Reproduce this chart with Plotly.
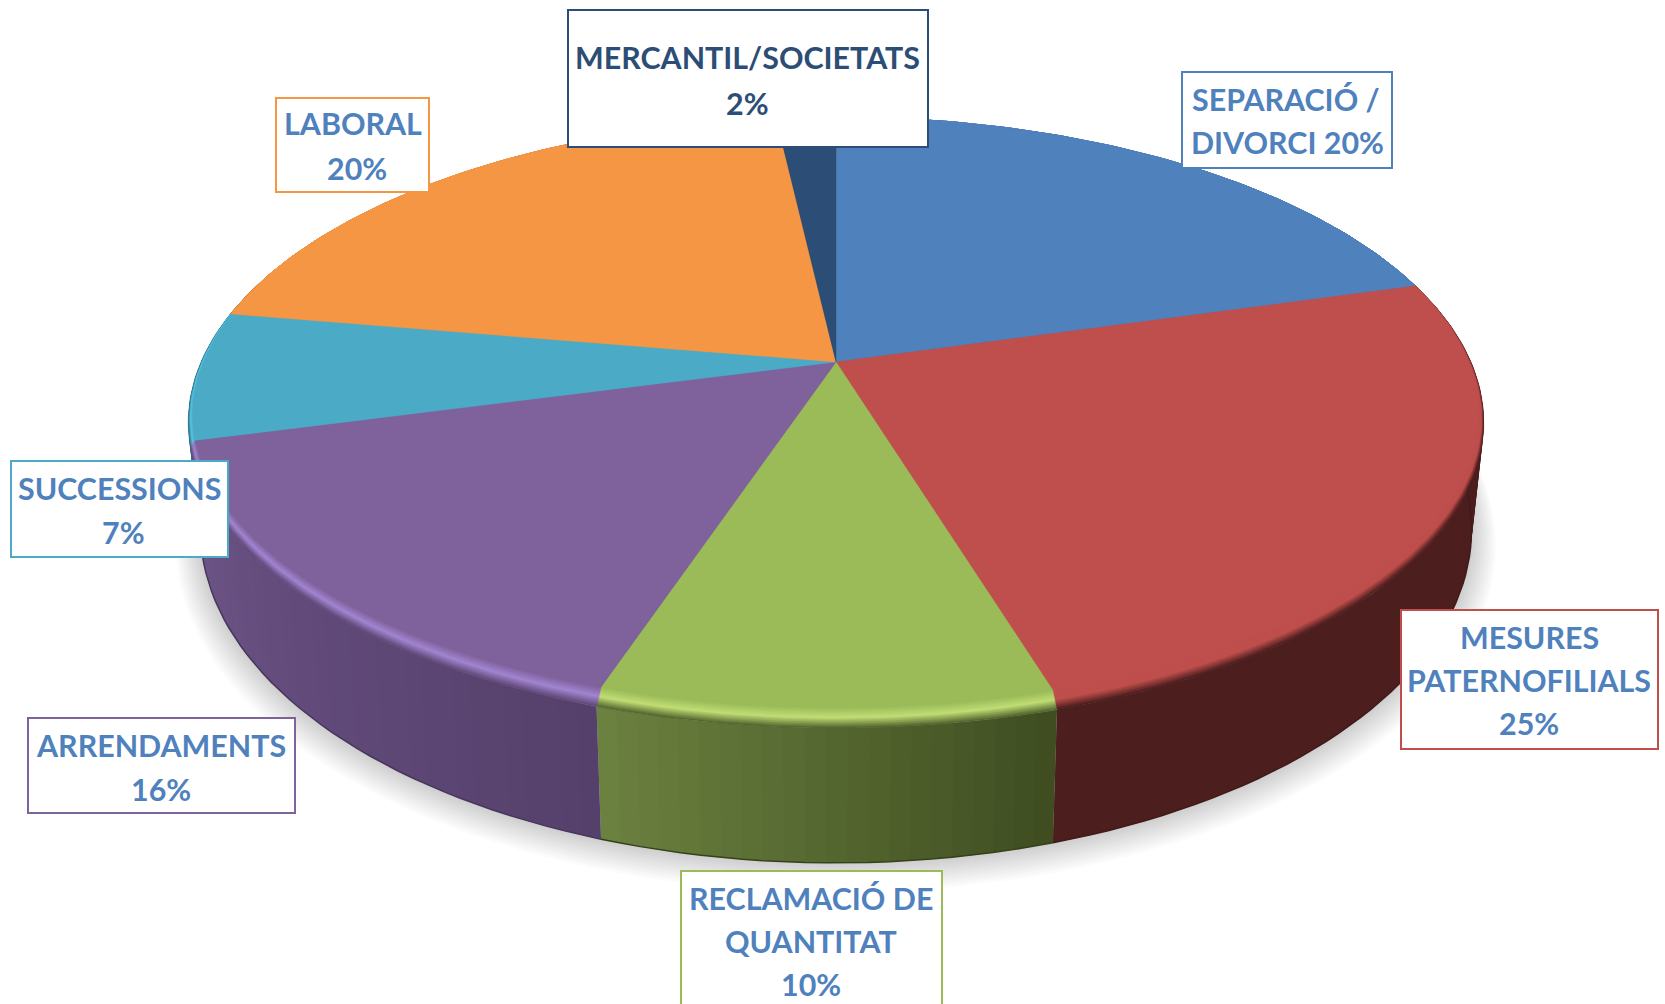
import math
import plotly.graph_objects as go

categories = ["SEPARACIÓ / DIVORCI", "MESURES PATERNOFILIALS", "RECLAMACIÓ DE QUANTITAT",
              "ARRENDAMENTS", "SUCCESSIONS", "LABORAL", "MERCANTIL/SOCIETATS"]
values = [20.6, 24.85, 9.5, 15.7, 7.05, 20.5, 1.8]
face_colors = ["#4F81BD", "#BE4F4C", "#9BBB59", "#7F619C", "#4BAAC6", "#F59644", "#2C4D75"]
high_colors = ["#4F81BD", "#BE4F4C", "#C0DD75", "#A285D0", "#55C5E5", "#F59644", "#2C4D75"]
wall_left = ["#2F4D71", "#4D1E1E", "#6C8240", "#6E5589", "#2D6A7A", "#94592A", "#1A2E46"]
wall_right = ["#2F4D71", "#4D1E1E", "#3E4C20", "#55406B", "#2D6A7A", "#94592A", "#1A2E46"]

label_lines = [["SEPARACIÓ /", "DIVORCI 20%"], ["MESURES", "PATERNOFILIALS", "25%"],
               ["RECLAMACIÓ DE", "QUANTITAT", "10%"], ["ARRENDAMENTS", "16%"],
               ["SUCCESSIONS", "7%"], ["LABORAL", "20%"], ["MERCANTIL/SOCIETATS", "2%"]]
label_centers = [[(1286, 99), (1287, 142)], [(1529, 637), (1529, 680), (1529, 723)],
                 [(811, 898), (811, 941), (811, 984)], [(161, 745), (161, 789)],
                 [(119, 488), (123, 532)], [(353, 123), (357, 168)], [(747, 57), (747, 103)]]
label_boxes = [(1182, 72, 1392, 168), (1401, 610, 1658, 749), (681, 871, 942, 1012),
               (28, 718, 295, 813), (11, 461, 228, 557), (276, 98, 429, 192), (568, 10, 928, 147)]
label_text_colors = ["#4F81BD"] * 6 + ["#2C4D75"]

# projection of the unit pie onto the page
CX, K = 836.0, -0.198
TOP = dict(a=635.0, y0=362.0, c=222.0)
BOT = dict(a=623.0, y0=463.0, c=229.0)


def project(theta, disc, t=0.0):
    u, v = math.sin(theta), -math.cos(theta)
    d = 1 + K * v
    shrink = 1 - 0.018 * t * max(0.0, v + 0.35) / 1.35
    x = CX + disc["a"] * u * shrink / d
    y = (disc["y0"] + disc["c"] * v) / d - 20 * t * max(0.0, v)
    return x, y


def mix(c1, c2, f):
    a = [int(c1[i:i + 2], 16) for i in (1, 3, 5)]
    b = [int(c2[i:i + 2], 16) for i in (1, 3, 5)]
    return "#%02x%02x%02x" % tuple(round(p + (q - p) * f) for p, q in zip(a, b))


edges = [0.0]
for val in values:
    edges.append(edges[-1] + val)
edges = [e / sum(values) * 2 * math.pi for e in edges]

fig = go.Figure()


def poly(xs, ys, color, lw=0.0):
    fig.add_trace(go.Scatter(x=xs, y=ys, mode="lines", fill="toself", fillcolor=color,
                             line=dict(color=color, width=lw), hoverinfo="skip", showlegend=False))


# soft shadow below the pie
N = 240
for i in range(12, 0, -1):
    s = 1 + 0.0032 * i
    pts = [project(2 * math.pi * j / N, BOT) for j in range(N + 1)]
    xs = [CX + (p[0] - CX) * s for p in pts]
    ys = [500 + (p[1] - 500) * s + 1.3 * i for p in pts]
    fig.add_trace(go.Scatter(x=xs, y=ys, mode="lines", fill="toself", fillcolor="rgba(0,0,0,0.016)",
                             line=dict(width=0), hoverinfo="skip", showlegend=False))

# side wall: later strips overlap the earlier ones, so no seams show
WALL_FROM, WALL_TO = math.radians(70), math.radians(290)
STEP = math.radians(1.5)
for i in range(len(values)):
    a0, a1 = max(edges[i], WALL_FROM), min(edges[i + 1], WALL_TO)
    if a1 <= a0:
        continue
    n = max(1, int((a1 - a0) / STEP))
    for j in range(n):
        t0 = a0 + (a1 - a0) * j / n
        t1 = a0 + (a1 - a0) * (j + 1) / n
        t1x = min(t1 + STEP, a1)
        col = mix(wall_left[i], wall_right[i], 1 - (j + 0.5) / n)
        p = [project(t0, TOP), project(t1, TOP), project(t1x, TOP), project(t1x, BOT),
             project(t1, BOT), project(t0, BOT)]
        poly([q[0] for q in p] + [p[0][0]], [q[1] for q in p] + [p[0][1]], col)
    bx, by = zip(*[project(a0 + (a1 - a0) * j / n, BOT) for j in range(n + 1)])
    fig.add_trace(go.Scatter(x=bx, y=by, mode="lines", hoverinfo="skip", showlegend=False,
                             line=dict(color=mix(wall_right[i], "#000000", 0.15), width=1.5)))

# top face with rounded bevel, outer layer first
LAYERS = 12
T_HIGH = 0.5
for layer in range(LAYERS + 1):
    t = layer / LAYERS
    for i in range(len(values)):
        a0, a1 = edges[i], edges[i + 1]
        n = max(4, int((a1 - a0) / math.radians(1)))
        pts = [project(a0 + (a1 - a0) * j / n, TOP, t) for j in range(n + 1)]
        if t < T_HIGH:
            col = mix(mix(wall_left[i], wall_right[i], 0.5), high_colors[i], t / T_HIGH)
        else:
            col = mix(high_colors[i], face_colors[i], (t - T_HIGH) / (1 - T_HIGH))
        poly([CX] + [p[0] for p in pts] + [CX], [TOP["y0"]] + [p[1] for p in pts] + [TOP["y0"]], col, 0.4)

shapes, annotations = [], []
for i in range(len(categories)):
    x0, y0, x1, y1 = label_boxes[i]
    shapes.append(dict(type="rect", xref="x", yref="y", x0=x0, y0=y0, x1=x1, y1=y1, layer="above",
                       fillcolor="#FFFFFF", line=dict(color=face_colors[i], width=2)))
    for text, (tx, ty) in zip(label_lines[i], label_centers[i]):
        annotations.append(dict(x=tx, y=ty, xref="x", yref="y", text="<b>%s</b>" % text, showarrow=False,
                                xanchor="center", yanchor="middle",
                                font=dict(family="Lato", size=30.4, color=label_text_colors[i])))

fig.update_layout(
    width=1665, height=1004, margin=dict(l=0, r=0, t=0, b=0),
    paper_bgcolor="#FFFFFF", plot_bgcolor="#FFFFFF", showlegend=False,
    xaxis=dict(range=[0, 1665], visible=False, fixedrange=True),
    yaxis=dict(range=[1004, 0], visible=False, fixedrange=True),
    shapes=shapes, annotations=annotations,
)
fig.write_html("out.html", config={"displayModeBar": False},
               post_script="document.body.style.margin='0';document.documentElement.style.overflow='hidden';")
